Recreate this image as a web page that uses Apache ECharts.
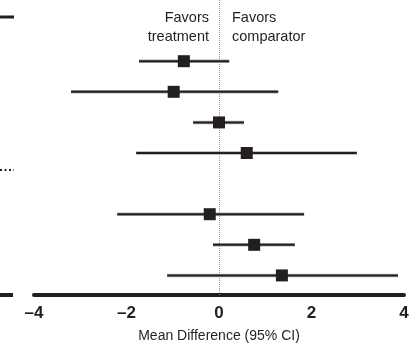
<!DOCTYPE html>
<html>
<head>
<meta charset="utf-8">
<script src="https://cdn.jsdelivr.net/npm/echarts@6/dist/echarts.min.js"></script>
<style>
  html, body { margin: 0; padding: 0; background: #fff; }
  #forest { width: 414px; height: 343px; }
</style>
</head>
<body>
<div id="forest"></div>
<script>
var forest = echarts.init(document.getElementById('forest'));

// rows top to bottom, row 5 is an empty slot
var rows = [0, 1, 2, 3, 4, 5, 6, 7];
var mean = [-0.76, -0.98, 0.0, 0.6, null, -0.2, 0.76, 1.36];
var lower = [-1.73, -3.2, -0.56, -1.79, null, -2.2, -0.13, -1.12];
var upper = [0.22, 1.28, 0.54, 2.98, null, 1.84, 1.64, 3.87];
var xTicks = [-4, -2, 0, 2, 4];

var ink = '#231f20';
var font = '"Liberation Sans", Arial, sans-serif';

var data = [];
for (var i = 0; i < rows.length; i++) {
  if (mean[i] === null) continue;
  data.push([rows[i], mean[i], lower[i], upper[i]]);
}

function renderItem(params, api) {
  var row = api.value(0);
  var lo = api.coord([api.value(2), row]);
  var hi = api.coord([api.value(3), row]);
  var m = api.coord([api.value(1), row]);
  var s = 12;
  return {
    type: 'group',
    children: [
      {
        type: 'line',
        shape: { x1: lo[0], y1: lo[1], x2: hi[0], y2: hi[1] },
        style: { stroke: '#aaa', lineWidth: 3.5 }
      },
      {
        type: 'line',
        shape: { x1: lo[0], y1: lo[1], x2: hi[0], y2: hi[1] },
        style: { stroke: ink, lineWidth: 2 }
      },
      {
        type: 'rect',
        shape: { x: m[0] - s / 2, y: m[1] - s / 2, width: s, height: s },
        style: { fill: ink }
      }
    ]
  };
}

var labelFont = '14.5px ' + font;

var option = {
  animation: false,
  grid: {
    left: 34,
    right: 10,
    top: 0,
    height: 295,
    containLabel: false,
    outerBoundsMode: 'none'
  },
  xAxis: {
    type: 'value',
    min: xTicks[0],
    max: xTicks[xTicks.length - 1],
    interval: 2,
    splitLine: { show: false },
    axisTick: { show: false },
    axisLine: { show: true, onZero: false, lineStyle: { color: ink, width: 4 } },
    axisLabel: {
      margin: 10,
      color: ink,
      fontFamily: font,
      fontWeight: 'bold',
      fontSize: 17,
      formatter: function (v) {
        return v < 0 ? '\u2013' + Math.abs(v) : String(v);
      }
    },
    name: 'Mean Difference (95% CI)',
    nameLocation: 'middle',
    nameGap: 34,
    nameTextStyle: { color: ink, fontFamily: font, fontSize: 14 }
  },
  yAxis: {
    type: 'value',
    inverse: true,
    min: -2,
    max: 7.64,
    interval: 9.64,
    show: false
  },
  series: [
    {
      type: 'custom',
      renderItem: renderItem,
      encode: { x: [1, 2, 3], y: 0 },
      data: data,
      z: 3,
      markLine: {
        silent: true,
        symbol: 'none',
        label: { show: false },
        lineStyle: { color: '#999', type: 'dotted', width: 1 },
        data: [{ xAxis: 0 }],
        z: 1
      }
    }
  ],
  graphic: [
    { type: 'text', right: 205, top: 10, style: { text: 'Favors', fill: ink, font: labelFont } },
    { type: 'text', right: 205, top: 29, style: { text: 'treatment', fill: ink, font: labelFont } },
    { type: 'text', left: 232, top: 10, style: { text: 'Favors', fill: ink, font: labelFont } },
    { type: 'text', left: 232, top: 29, style: { text: 'comparator', fill: ink, font: labelFont } },
    // bits of the neighbouring panel at the left edge
    { type: 'line', shape: { x1: 0, y1: 17, x2: 14, y2: 17 }, style: { stroke: ink, lineWidth: 3 } },
    { type: 'line', shape: { x1: 0, y1: 170, x2: 14, y2: 170 }, style: { stroke: ink, lineWidth: 2, lineDash: [2, 2.5] } },
    { type: 'line', shape: { x1: 0, y1: 295, x2: 13, y2: 295 }, style: { stroke: ink, lineWidth: 4 } }
  ]
};

forest.setOption(option);
</script>
</body>
</html>
